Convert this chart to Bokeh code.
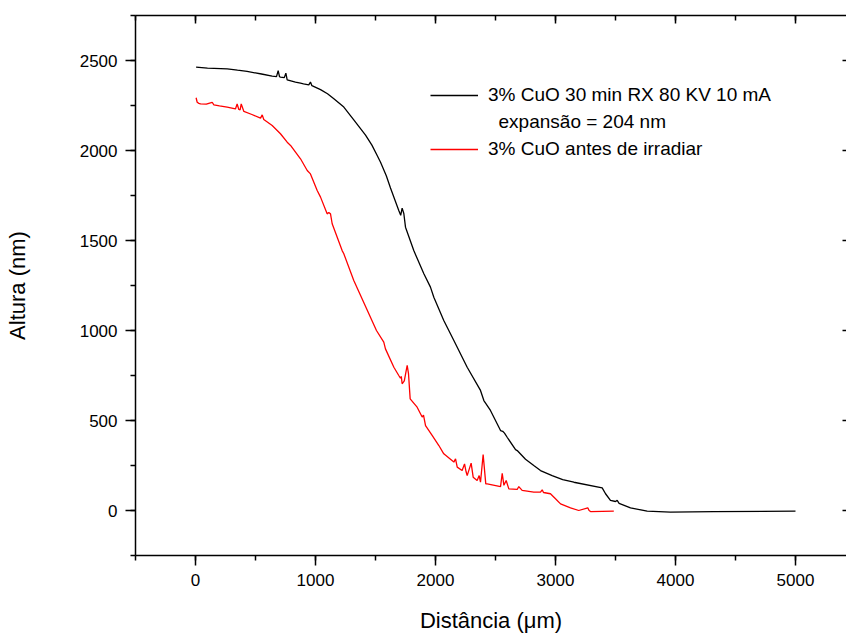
from bokeh.plotting import figure
from bokeh.models import LinearAxis, SingleIntervalTicker, Legend, LegendItem, Range1d
from bokeh.embed import file_html
from bokeh.resources import INLINE

# ---- data ----
black_x = [5, 100, 264, 350, 430, 550, 639, 675, 689, 700, 708, 740, 753, 764, 833, 875, 900, 944, 958, 970,
           1042, 1100, 1153, 1236, 1319, 1417, 1470, 1514, 1542, 1590, 1625, 1694, 1710, 1722, 1736, 1750, 1819, 1903, 1958, 1986,
           2069, 2111, 2153, 2264, 2375, 2403, 2458, 2542, 2560, 2575, 2597, 2667, 2681, 2750, 2819, 2875, 2972, 3060, 3153,
           3389, 3417, 3458, 3500, 3514, 3530, 3625, 3764, 3958, 4319, 5000]
black_y = [2463, 2458, 2454, 2446, 2439, 2425, 2413, 2410, 2444, 2410, 2408, 2405, 2430, 2393, 2380, 2374, 2370, 2365, 2380, 2360,
           2338, 2315, 2287, 2241, 2170, 2085, 2030, 1972, 1935, 1860, 1792, 1667, 1640, 1680, 1650, 1574, 1444, 1315, 1241, 1185,
           1056, 1000, 944, 796, 667, 611, 556, 444, 440, 430, 407, 338, 333, 285, 250, 222, 194, 172, 157,
           126, 93, 56, 50, 56, 40, 15, -4, -9, -6, -4]

red_x = [5, 14, 28, 42, 90, 139, 153, 200, 264, 333, 347, 361, 372, 381, 403, 470, 542, 556, 569, 639, 708, 764,
         792, 875, 931, 958, 1014, 1042, 1097, 1111, 1125, 1139, 1222, 1236, 1319, 1508, 1569, 1583, 1653, 1694,
         1708, 1715, 1722, 1740, 1764, 1775, 1789, 1847, 1889, 1900, 1917, 1972, 2028, 2069, 2153, 2167, 2181,
         2222, 2242, 2255, 2264, 2297, 2314, 2347, 2364, 2375, 2397, 2419, 2431, 2542, 2556, 2570, 2589, 2611,
         2681, 2694, 2722, 2819, 2875, 2889, 2900, 2958, 3000, 3042, 3125, 3194, 3269, 3280, 3292, 3486]
red_y = [2293, 2268, 2262, 2259, 2258, 2268, 2254, 2248, 2241, 2231, 2259, 2228, 2226, 2259, 2217, 2200, 2180, 2198, 2172, 2139, 2093, 2046,
         2028, 1954, 1889, 1870, 1778, 1741, 1648, 1655, 1648, 1593, 1444, 1426, 1278, 1000, 935, 898, 796, 750,
         735, 745, 704, 720, 806, 760, 620, 574, 519, 530, 472, 417, 361, 315, 269, 287, 241,
         222, 259, 215, 194, 263, 185, 167, 194, 157, 311, 148, 148, 133, 207, 140, 167, 120,
         117, 133, 112, 102, 102, 115, 100, 93, 65, 37, 15, 0, 15, 0, -6, -4]

label_black = "3% CuO 30 min RX 80 KV 10 mA"
label_black2 = "\u00a0\u00a0expansão = 204 nm"
label_red = "3% CuO antes de irradiar"
x_title = "Distância (μm)"
y_title = "Altura (nm)"

FONT = "Liberation Sans"

p = figure(width=846, height=637, output_backend="svg", toolbar_location=None,
           x_range=Range1d(-500, 5425), y_range=Range1d(-250, 2750),
           x_axis_location=None, y_axis_location=None,
           min_border_left=135, min_border_right=0, min_border_top=15, min_border_bottom=82,
           background_fill_color="white", border_fill_color="white")
p.outline_line_color = None
p.xgrid.visible = False
p.ygrid.visible = False

def style(ax):
    ax.axis_line_color = "black"
    ax.axis_line_width = 1.5
    ax.major_tick_line_color = "black"
    ax.minor_tick_line_color = "black"
    ax.major_tick_line_width = 1.5
    ax.minor_tick_line_width = 1.5
    ax.major_label_text_font = FONT
    ax.major_label_text_font_size = "17px"
    ax.major_label_text_color = "black"
    ax.axis_label_text_font = FONT
    ax.axis_label_text_font_size = "22px"
    ax.axis_label_text_font_style = "normal"
    ax.axis_label_text_color = "black"

def hide_labels(ax):
    # labels not drawn at all (no text visuals), and take almost no room
    ax.major_label_text_font_size = "1px"
    ax.major_label_text_color = None
    ax.major_label_standoff = 0

bottom = LinearAxis(ticker=SingleIntervalTicker(interval=1000, num_minor_ticks=2), axis_label=x_title)
style(bottom)
bottom.major_tick_out = 10
bottom.major_tick_in = 0
bottom.minor_tick_out = 5
bottom.minor_tick_in = 0
bottom.major_label_standoff = 8
bottom.axis_label_standoff = 19
p.add_layout(bottom, "below")

left = LinearAxis(ticker=SingleIntervalTicker(interval=500, num_minor_ticks=2), axis_label=y_title)
style(left)
left.major_tick_out = 10
left.major_tick_in = 0
left.minor_tick_out = 5
left.minor_tick_in = 0
left.major_label_standoff = 8
left.axis_label_standoff = 47
p.add_layout(left, "left")

top = LinearAxis(ticker=SingleIntervalTicker(interval=1000, num_minor_ticks=2))
style(top)
top.major_tick_out = 0
top.major_tick_in = 8
top.minor_tick_out = 0
top.minor_tick_in = 5
hide_labels(top)
p.add_layout(top, "above")

right = LinearAxis(ticker=SingleIntervalTicker(interval=500, num_minor_ticks=0))
style(right)
right.axis_line_color = None
right.major_tick_out = 0
right.major_tick_in = 4
right.minor_tick_line_color = None
hide_labels(right)
p.add_layout(right, "right")

r_black = p.line(black_x, black_y, line_color="black", line_width=1.3)
r_red = p.line(red_x, red_y, line_color="#ff0000", line_width=1.3)
r_blank = p.line([], [], line_color="white", line_alpha=0)

legend = Legend(items=[LegendItem(label=label_black, renderers=[r_black]),
                       LegendItem(label=label_black2, renderers=[r_blank]),
                       LegendItem(label=label_red, renderers=[r_red])],
                location=(295, 395))
legend.label_text_font = FONT
legend.label_text_font_size = "19px"
legend.label_text_color = "black"
legend.glyph_width = 48
legend.glyph_height = 20
legend.label_height = 20
legend.label_standoff = 10
legend.spacing = 5
legend.padding = 0
legend.margin = 0
legend.border_line_color = None
legend.background_fill_alpha = 0
p.add_layout(legend, "center")

open("out.html", "w").write(file_html(p, INLINE))
